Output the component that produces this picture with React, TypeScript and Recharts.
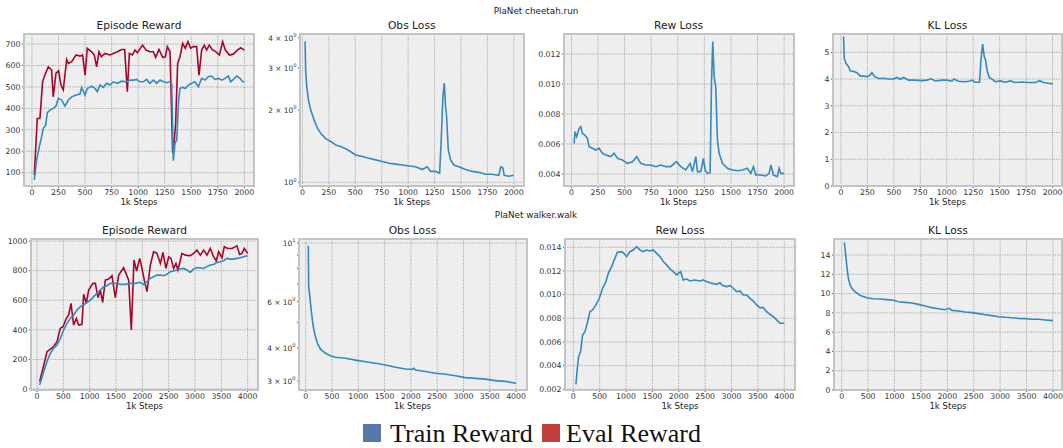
import React from "react"
import { LineChart, Line, XAxis, YAxis, CartesianGrid } from "recharts"

type Pair = [number, number]

// PlaNet cheetah.run  ([step, value])
const cheetahTrainReward: Pair[] = [
  [22, 66], [44, 159], [69, 221], [91, 268], [107, 307], [129, 322], [145, 380], [170, 392],
  [201, 400], [226, 411], [248, 447], [280, 439], [311, 411], [343, 439], [374, 454], [415, 462],
  [452, 467], [468, 498], [500, 462], [521, 493], [562, 504], [594, 493], [616, 478], [641, 509],
  [672, 498], [704, 517], [735, 509], [766, 524], [804, 517], [845, 527], [886, 524], [923, 532],
  [955, 532], [986, 535], [1017, 524], [1049, 524], [1080, 535], [1111, 517], [1143, 532],
  [1174, 517], [1206, 532], [1237, 524], [1269, 520], [1300, 524], [1316, 517], [1331, 156],
  [1347, 237], [1363, 252], [1381, 439], [1394, 493], [1419, 498], [1444, 493], [1473, 509],
  [1504, 517], [1535, 524], [1567, 501], [1598, 540], [1630, 532], [1661, 548], [1692, 551],
  [1724, 535], [1755, 540], [1787, 532], [1818, 540], [1849, 551], [1871, 524], [1896, 535],
  [1928, 551], [1959, 540], [1984, 524], [2000, 524],
]
const cheetahEvalReward: Pair[] = [
  [22, 89], [50, 353], [75, 353], [100, 524], [125, 560], [154, 594], [185, 579], [200, 454],
  [226, 563], [251, 576], [273, 509], [295, 486], [327, 628], [343, 610], [374, 618], [415, 649],
  [452, 644], [477, 649], [500, 555], [521, 680], [562, 664], [587, 649], [609, 594], [631, 664],
  [653, 641], [688, 656], [735, 649], [766, 656], [804, 664], [845, 675], [873, 675], [898, 478],
  [917, 656], [945, 649], [970, 672], [992, 660], [1042, 695], [1074, 672], [1111, 664],
  [1143, 664], [1165, 638], [1196, 675], [1231, 638], [1256, 641], [1275, 688], [1300, 664],
  [1325, 193], [1338, 237], [1353, 330], [1372, 610], [1394, 641], [1419, 703], [1444, 680],
  [1469, 711], [1494, 680], [1520, 688], [1551, 688], [1573, 555], [1598, 672], [1623, 695],
  [1645, 672], [1670, 695], [1696, 675], [1733, 664], [1765, 649], [1796, 711], [1821, 672],
  [1859, 649], [1896, 653], [1934, 672], [1966, 683], [2000, 672],
]
const cheetahObsLoss: Pair[] = [
  [25, 3.86], [31, 2.89], [41, 2.5], [57, 2.2], [79, 2.0], [110, 1.82], [142, 1.68], [173, 1.6],
  [220, 1.52], [268, 1.48], [315, 1.43], [362, 1.41], [409, 1.38], [457, 1.34], [504, 1.3],
  [567, 1.28], [630, 1.26], [693, 1.24], [756, 1.22], [819, 1.2], [882, 1.19], [945, 1.18],
  [1008, 1.17], [1071, 1.16], [1134, 1.13], [1181, 1.16], [1213, 1.11], [1260, 1.11],
  [1298, 1.09], [1313, 1.5], [1329, 2.27], [1342, 2.59], [1354, 2.07], [1364, 1.88], [1380, 1.36],
  [1402, 1.24], [1433, 1.18], [1480, 1.16], [1543, 1.13], [1606, 1.11], [1669, 1.1], [1732, 1.08],
  [1795, 1.08], [1858, 1.07], [1877, 1.16], [1896, 1.15], [1909, 1.07], [1953, 1.06], [2000, 1.07],
]
const cheetahRewLoss: Pair[] = [
  [25, 0.00604], [34, 0.00682], [50, 0.00649], [72, 0.00704], [88, 0.00716], [103, 0.00671],
  [125, 0.0066], [150, 0.00638], [166, 0.00582], [197, 0.00571], [229, 0.0056], [260, 0.00571],
  [292, 0.00538], [323, 0.00527], [370, 0.00516], [401, 0.00538], [433, 0.00504], [480, 0.00493],
  [527, 0.00471], [574, 0.00482], [614, 0.00516], [652, 0.00471], [699, 0.0046], [746, 0.0046],
  [793, 0.00449], [840, 0.0046], [887, 0.00449], [934, 0.00449], [987, 0.00482], [1028, 0.00449],
  [1075, 0.00427], [1116, 0.00471], [1138, 0.00416], [1169, 0.00516], [1185, 0.00416],
  [1216, 0.00416], [1241, 0.00504], [1257, 0.00427], [1279, 0.00404], [1304, 0.00409],
  [1317, 0.01004], [1329, 0.01282], [1342, 0.01049], [1357, 0.00982], [1373, 0.00627],
  [1389, 0.00538], [1420, 0.00471], [1467, 0.00438], [1514, 0.00427], [1561, 0.00422],
  [1608, 0.00427], [1655, 0.00438], [1687, 0.00404], [1712, 0.00449], [1734, 0.00393],
  [1781, 0.00393], [1828, 0.00387], [1859, 0.00404], [1875, 0.0046], [1900, 0.00393],
  [1937, 0.00382], [1953, 0.00438], [1969, 0.00404], [2000, 0.00404],
]
const cheetahKlLoss: Pair[] = [
  [25, 5.59], [31, 4.78], [47, 4.59], [72, 4.46], [88, 4.31], [120, 4.28], [151, 4.24],
  [183, 4.11], [214, 4.11], [246, 4.09], [277, 4.15], [293, 4.24], [318, 4.09], [356, 4.02],
  [403, 4.03], [450, 4.0], [498, 4.0], [529, 4.06], [561, 3.99], [592, 4.06], [639, 3.96],
  [702, 3.96], [765, 3.94], [813, 3.96], [854, 4.01], [891, 3.93], [954, 3.96], [1002, 3.96],
  [1049, 3.92], [1065, 4.0], [1112, 3.92], [1175, 3.9], [1222, 3.93], [1238, 3.96], [1269, 3.88],
  [1310, 3.88], [1323, 4.71], [1339, 5.31], [1354, 4.84], [1367, 4.71], [1380, 4.34],
  [1402, 4.06], [1427, 4.0], [1458, 3.9], [1506, 3.93], [1553, 3.88], [1600, 3.93], [1647, 3.87],
  [1710, 3.89], [1773, 3.87], [1836, 3.87], [1877, 3.94], [1915, 3.87], [1962, 3.84], [2000, 3.82],
]

// PlaNet walker.walk
const walkerTrainReward: Pair[] = [
  [50, 27], [127, 117], [190, 185], [253, 241], [316, 275], [380, 297], [443, 342], [506, 399],
  [570, 444], [633, 477], [696, 500], [759, 534], [823, 556], [886, 568], [949, 586], [1013, 601],
  [1076, 624], [1139, 646], [1203, 669], [1266, 691], [1329, 698], [1392, 714], [1456, 714],
  [1519, 714], [1582, 707], [1677, 707], [1772, 714], [1867, 714], [1962, 721], [2025, 707],
  [2089, 725], [2152, 748], [2215, 759], [2278, 770], [2342, 770], [2405, 766], [2468, 775],
  [2532, 793], [2595, 797], [2658, 804], [2722, 811], [2785, 815], [2848, 804], [2911, 788],
  [2975, 811], [3038, 820], [3101, 820], [3165, 815], [3228, 827], [3291, 838], [3354, 842],
  [3418, 856], [3481, 860], [3544, 867], [3608, 883], [3671, 878], [3734, 878], [3797, 883],
  [3861, 887], [3924, 894], [4000, 901],
]
const walkerEvalReward: Pair[] = [
  [50, 50], [114, 140], [190, 252], [253, 270], [316, 286], [380, 320], [443, 410], [494, 421],
  [557, 477], [601, 500], [646, 579], [696, 432], [747, 477], [791, 432], [854, 437], [886, 640],
  [937, 579], [981, 669], [1063, 714], [1108, 714], [1158, 617], [1203, 669], [1247, 586],
  [1297, 736], [1361, 743], [1424, 766], [1487, 617], [1551, 770], [1646, 820], [1741, 736],
  [1791, 399], [1842, 872], [1892, 797], [1949, 883], [1994, 815], [2044, 725], [2089, 658],
  [2152, 838], [2215, 928], [2278, 917], [2342, 849], [2392, 923], [2449, 815], [2500, 894],
  [2544, 883], [2595, 815], [2639, 849], [2677, 804], [2753, 917], [2816, 905], [2911, 901],
  [2975, 917], [3038, 939], [3101, 905], [3165, 939], [3228, 905], [3291, 950], [3354, 894],
  [3405, 865], [3449, 928], [3513, 887], [3557, 962], [3620, 950], [3703, 950], [3797, 968],
  [3848, 910], [3892, 917], [3937, 950], [4000, 917],
]
const walkerObsLoss: Pair[] = [
  [50, 9.77], [57, 6.83], [76, 6.35], [108, 5.5], [139, 4.89], [177, 4.48], [222, 4.17],
  [285, 3.95], [380, 3.82], [475, 3.73], [570, 3.69], [759, 3.66], [949, 3.6], [1139, 3.55],
  [1329, 3.5], [1519, 3.45], [1709, 3.38], [1899, 3.33], [2025, 3.32], [2057, 3.35], [2089, 3.3],
  [2278, 3.26], [2468, 3.21], [2658, 3.18], [2848, 3.14], [3038, 3.09], [3228, 3.07],
  [3418, 3.05], [3608, 3.01], [3797, 2.99], [4000, 2.94],
]
const walkerRewLoss: Pair[] = [
  [50, 0.00242], [76, 0.00377], [101, 0.00476], [139, 0.00518], [177, 0.00659], [221, 0.00687],
  [265, 0.00758], [316, 0.00856], [367, 0.0087], [430, 0.00913], [493, 0.00969], [556, 0.01054],
  [619, 0.0111], [664, 0.0118], [727, 0.01237], [790, 0.01307], [834, 0.01358], [916, 0.01363],
  [960, 0.01349], [1011, 0.01321], [1074, 0.01363], [1137, 0.01377], [1201, 0.01406],
  [1264, 0.01377], [1327, 0.01363], [1390, 0.01377], [1453, 0.01369], [1517, 0.01377],
  [1580, 0.01349], [1643, 0.01321], [1706, 0.01279], [1769, 0.01251], [1833, 0.01217],
  [1896, 0.01194], [1959, 0.01166], [2035, 0.01194], [2085, 0.01124], [2149, 0.01132],
  [2212, 0.01115], [2306, 0.01124], [2401, 0.01115], [2464, 0.01124], [2528, 0.0111],
  [2622, 0.01096], [2717, 0.01087], [2780, 0.01101], [2831, 0.01076], [2907, 0.01068],
  [2970, 0.01076], [3033, 0.01054], [3096, 0.01025], [3159, 0.01031], [3223, 0.00997],
  [3286, 0.00997], [3349, 0.00969], [3412, 0.00946], [3476, 0.00913], [3539, 0.0089],
  [3602, 0.0089], [3665, 0.00856], [3728, 0.00834], [3791, 0.00814], [3855, 0.00786],
  [3918, 0.00758], [4000, 0.00758],
]
const walkerKlLoss: Pair[] = [
  [50, 15.31], [76, 14.0], [101, 12.62], [126, 11.58], [158, 10.89], [202, 10.47], [253, 10.2],
  [316, 9.92], [379, 9.75], [474, 9.57], [600, 9.47], [727, 9.44], [853, 9.37], [979, 9.3],
  [1074, 9.16], [1201, 9.09], [1327, 9.02], [1453, 8.88], [1580, 8.71], [1706, 8.54],
  [1833, 8.43], [1959, 8.33], [2035, 8.47], [2085, 8.26], [2212, 8.19], [2338, 8.09],
  [2464, 8.02], [2591, 7.92], [2717, 7.81], [2844, 7.71], [2970, 7.6], [3096, 7.54], [3223, 7.5],
  [3349, 7.43], [3476, 7.4], [3602, 7.33], [3728, 7.33], [3855, 7.26], [4000, 7.19],
]

// axis ticks
const cheetahSteps = [0, 250, 500, 750, 1000, 1250, 1500, 1750, 2000]
const walkerSteps = [0, 500, 1000, 1500, 2000, 2500, 3000, 3500, 4000]
const cheetahRewardTicks = [100, 200, 300, 400, 500, 600, 700]
const cheetahObsTicks = [1, 2, 3, 4]
const cheetahRewLossTicks = [0.004, 0.006, 0.008, 0.01, 0.012]
const cheetahKlTicks = [0, 1, 2, 3, 4, 5]
const walkerRewardTicks = [0, 200, 400, 600, 800, 1000]
const walkerObsTicks = [3, 4, 5, 6, 7, 8, 9, 10]
const walkerObsLabels = [3, 4, 6, 10]
const walkerRewLossTicks = [0.002, 0.004, 0.006, 0.008, 0.01, 0.012, 0.014]
const walkerKlTicks = [0, 2, 4, 6, 8, 10, 12, 14]

const BLUE = "#348ABD"
const RED = "#A60628"
const FONT = "'DejaVu Sans', sans-serif"
const YW = 50
const XH = 14
const PAD = 8

const toPoints = (pairs: Pair[]) => pairs.map(([step, v]) => ({ step, v }))
const fix3 = (v: number) => v.toFixed(3)

function LogTick(props: any) {
  const { x, y, payload, labels } = props
  const v = payload.value as number
  if (!labels.includes(v)) return <g />
  const exp = Math.floor(Math.log10(v) + 1e-9)
  const mant = Math.round(v / Math.pow(10, exp))
  return (
    <text x={x} y={y} dy="0.4em" textAnchor="end" fontSize={7.4} fill="#333" fontFamily={FONT}>
      {mant === 1 ? "10" : `${mant} × 10`}
      <tspan dy={-3.6} fontSize={5.2}>{exp}</tspan>
    </text>
  )
}

function Caption({ cx, base, size, text }: { cx: number; base: number; size: number; text: string }) {
  return (
    <div
      style={{
        position: "absolute", left: cx - 150, width: 300, top: base - 0.846 * size,
        fontSize: size, lineHeight: `${size}px`, textAlign: "center", fontFamily: FONT,
        color: "#222", whiteSpace: "nowrap",
      }}
    >
      {text}
    </div>
  )
}

interface PanelProps {
  title: string
  left: number
  top: number
  width: number
  height: number
  xDomain: [number, number]
  xTicks: number[]
  yDomain: [number, number]
  yTicks: number[]
  log?: boolean
  logLabels?: number[]
  gridY?: number[]
  fmt?: (v: number) => string
  series: { data: Pair[]; color: string }[]
}

function Panel(p: PanelProps) {
  const tickStyle = { fontSize: 7.8, fill: "#333", fontFamily: FONT }
  return (
    <>
      <div style={{ position: "absolute", left: p.left - YW, top: p.top - PAD }}>
        <LineChart width={p.width + YW + 4} height={p.height + XH + PAD} margin={{ top: PAD, right: 4, bottom: 0, left: 0 }}>
          <CartesianGrid
            fill="#eeeeee"
            stroke="#a8a8a8"
            strokeDasharray="1.2 1.2"
            horizontalValues={p.gridY ?? p.yTicks}
            verticalValues={p.xTicks}
          />
          <XAxis
            type="number"
            dataKey="step"
            domain={p.xDomain}
            ticks={p.xTicks}
            allowDataOverflow
            interval={0}
            height={XH}
            axisLine={false}
            tickLine={{ stroke: "#555" }}
            tickSize={2}
            tickMargin={1}
            tick={tickStyle}
          />
          <YAxis
            type="number"
            domain={p.yDomain}
            ticks={p.yTicks}
            scale={p.log ? "log" : "linear"}
            allowDataOverflow
            interval={0}
            width={YW}
            axisLine={false}
            tickLine={{ stroke: "#555" }}
            tickSize={2}
            tickMargin={1.5}
            tick={p.log ? (t: any) => <LogTick {...t} labels={p.logLabels ?? p.yTicks} /> : tickStyle}
            tickFormatter={p.fmt}
          />
          {p.series.map((s, i) => (
            <Line
              key={i}
              data={toPoints(s.data)}
              dataKey="v"
              type="linear"
              stroke={s.color}
              strokeWidth={1.6}
              dot={false}
              isAnimationActive={false}
            />
          ))}
        </LineChart>
      </div>
      <div
        style={{
          position: "absolute", left: p.left - 1, top: p.top - 1, width: p.width + 2, height: p.height + 2,
          border: "2px solid #c4c4c4", boxSizing: "border-box", pointerEvents: "none",
        }}
      />
      <Caption cx={p.left + p.width / 2} base={p.top - 4} size={10.7} text={p.title} />
      <Caption cx={p.left + p.width / 2} base={p.top + p.height + 19.5} size={8.6} text="1k Steps" />
    </>
  )
}

export default function App() {
  const r1 = { top: 34, height: 152 }
  const r2 = { top: 239, height: 151 }
  return (
    <div style={{ position: "absolute", left: 0, top: 0, width: 1063, height: 448, background: "#fff", overflow: "hidden" }}>
      <Caption cx={536} base={14.4} size={8.8} text="PlaNet cheetah.run" />
      <Caption cx={536} base={218} size={8.8} text="PlaNet walker.walk" />

      <Panel
        title="Episode Reward" left={24} width={230} {...r1}
        xDomain={[-75, 2091]} xTicks={cheetahSteps} yDomain={[38, 747]} yTicks={cheetahRewardTicks}
        series={[{ data: cheetahEvalReward, color: RED }, { data: cheetahTrainReward, color: BLUE }]}
      />
      <Panel
        title="Obs Loss" left={299.5} width={224.5} {...r1}
        xDomain={[-23, 2101]} xTicks={cheetahSteps} yDomain={[0.965, 4.15]} yTicks={cheetahObsTicks}
        log gridY={[1]} series={[{ data: cheetahObsLoss, color: BLUE }]}
      />
      <Panel
        title="Rew Loss" left={563.5} width={230} {...r1}
        xDomain={[-70, 2093]} xTicks={cheetahSteps} yDomain={[0.0032, 0.01333]} yTicks={cheetahRewLossTicks}
        fmt={fix3} series={[{ data: cheetahRewLoss, color: BLUE }]}
      />
      <Panel
        title="KL Loss" left={833} width={229} {...r1}
        xDomain={[-75, 2089]} xTicks={cheetahSteps} yDomain={[0, 5.685]} yTicks={cheetahKlTicks}
        series={[{ data: cheetahKlLoss, color: BLUE }]}
      />

      <Panel
        title="Episode Reward" left={31} width={227} {...r2}
        xDomain={[-114, 4197]} xTicks={walkerSteps} yDomain={[-7, 1014]} yTicks={walkerRewardTicks}
        series={[{ data: walkerEvalReward, color: RED }, { data: walkerTrainReward, color: BLUE }]}
      />
      <Panel
        title="Obs Loss" left={298.5} width={228} {...r2}
        xDomain={[-127, 4208]} xTicks={walkerSteps} yDomain={[2.773, 10.355]} yTicks={walkerObsTicks}
        log logLabels={walkerObsLabels} gridY={[10]} series={[{ data: walkerObsLoss, color: BLUE }]}
      />
      <Panel
        title="Rew Loss" left={565} width={230} {...r2}
        xDomain={[-157, 4203]} xTicks={walkerSteps} yDomain={[0.00194, 0.0147]} yTicks={walkerRewLossTicks}
        fmt={fix3} series={[{ data: walkerRewLoss, color: BLUE }]}
      />
      <Panel
        title="KL Loss" left={834} width={228} {...r2}
        xDomain={[-146, 4171]} xTicks={walkerSteps} yDomain={[0, 15.66]} yTicks={walkerKlTicks}
        series={[{ data: walkerKlLoss, color: BLUE }]}
      />

      <div style={{ position: "absolute", left: 362.7, top: 424, width: 18, height: 18, background: "#5479a8" }} />
      <div style={{ position: "absolute", left: 390, top: 442.3 - 0.8375 * 26, fontSize: 26, lineHeight: "26px", fontFamily: "'Liberation Serif', serif", color: "#111", whiteSpace: "nowrap" }}>
        Train Reward
      </div>
      <div style={{ position: "absolute", left: 541.7, top: 424, width: 18, height: 18, background: "#c0403e" }} />
      <div style={{ position: "absolute", left: 566, top: 442.3 - 0.8375 * 26, fontSize: 26, lineHeight: "26px", fontFamily: "'Liberation Serif', serif", color: "#111", whiteSpace: "nowrap" }}>
        Eval Reward
      </div>
    </div>
  )
}
